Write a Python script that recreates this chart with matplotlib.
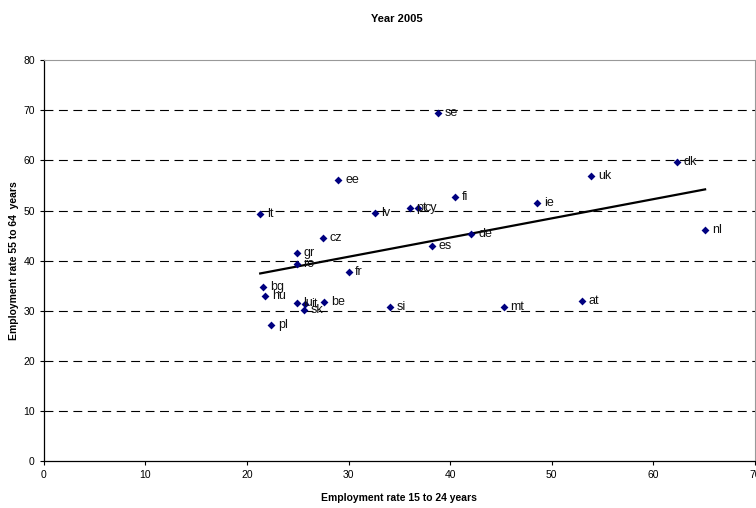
import numpy as np
import matplotlib
matplotlib.use('Agg')
import matplotlib.pyplot as plt

plt.rcParams['font.family'] = ['Liberation Sans', 'DejaVu Sans']

# =============================================================================
# DATA
# =============================================================================
countries = ['se', 'dk', 'uk', 'ee', 'fi', 'ie', 'lt', 'lv', 'pt', 'cy',
             'cz', 'de', 'es', 'nl', 'gr', 'ro', 'fr', 'bg', 'hu', 'lu',
             'it', 'be', 'sk', 'si', 'mt', 'at', 'pl']
young = [38.8, 62.3, 53.9, 29.0, 40.5, 48.6, 21.3, 32.6, 36.0, 36.8,
         27.5, 42.1, 38.2, 65.1, 24.9, 24.9, 30.0, 21.6, 21.8, 24.9,
         25.7, 27.6, 25.6, 34.1, 45.3, 53.0, 22.4]
older = [69.5, 59.7, 56.9, 56.1, 52.7, 51.5, 49.3, 49.5, 50.5, 50.5,
         44.5, 45.3, 42.9, 46.1, 41.5, 39.3, 37.7, 34.7, 32.9, 31.5,
         31.3, 31.7, 30.1, 30.7, 30.7, 31.9, 27.1]

x = np.array(young)
y = np.array(older)

# =============================================================================
# PLOT
# =============================================================================
fig = plt.figure(figsize=(7.56, 5.08), dpi=100)
ax = fig.add_axes([0.058, 0.0925, 0.9405, 0.789])

for yy in range(10, 80, 10):
    ax.axhline(yy, color='black', lw=0.8, ls=(0, (8, 5)), zorder=1)

ax.scatter(x, y, marker='D', s=16, color='#000080', zorder=3, linewidths=0)
for name, xi, yi in zip(countries, x, y):
    ax.text(xi + 0.65, yi, name, fontsize=9, va='center', ha='left',
            color='#111111', zorder=4)

# linear trend
z = np.polyfit(x, y, 1)
xs = np.array([x.min(), x.max()])
ax.plot(xs, np.polyval(z, xs), color='black', lw=1.6, zorder=2)

ax.set_xlim(0, 70)
ax.set_ylim(0, 80)
ax.set_xticks(range(0, 71, 10))
ax.set_yticks(range(0, 81, 10))
ax.tick_params(labelsize=7.5, length=3, width=0.8, direction='out')

for side in ['top', 'right']:
    ax.spines[side].set_color('#999999')
    ax.spines[side].set_linewidth(0.8)
for side in ['left', 'bottom']:
    ax.spines[side].set_color('black')
    ax.spines[side].set_linewidth(0.9)

ax.set_xlabel('Employment rate 15 to 24 years', fontsize=7.5,
              fontweight='bold', labelpad=9)
ax.set_ylabel('Employment rate 55 to 64  years', fontsize=7.5,
              fontweight='bold', labelpad=3)
fig.text(0.525, 0.963, 'Year 2005', fontsize=8, fontweight='bold',
         ha='center', va='center')

fig.savefig('out.png', dpi=100)
